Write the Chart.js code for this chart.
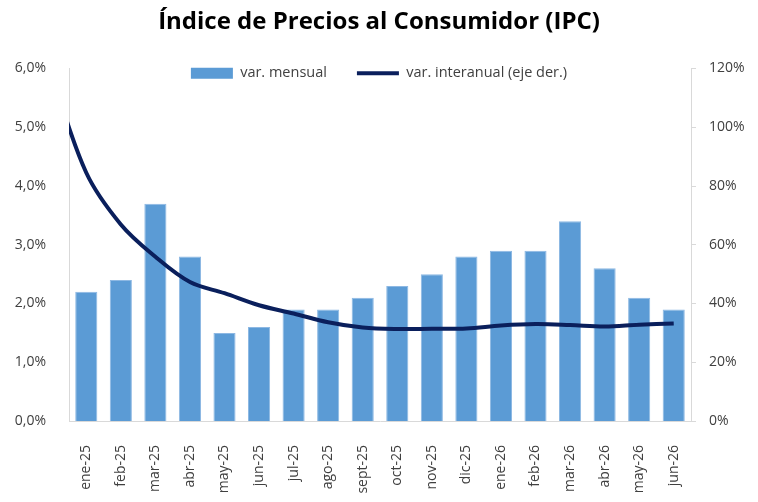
<!DOCTYPE html>
<html>
<head>
<meta charset="utf-8">
<script src="https://cdn.jsdelivr.net/npm/chart.js@4"></script>
<style>
  body { margin: 0; background: #fff; }
  canvas { display: block; }
</style>
</head>
<body>
<canvas id="grafico" width="758" height="502"></canvas>
<script>
// datos
const meses = ["ene-25", "feb-25", "mar-25", "abr-25", "may-25", "jun-25", "jul-25", "ago-25", "sept-25",
  "oct-25", "nov-25", "dic-25", "ene-26", "feb-26", "mar-26", "abr-26", "may-26", "jun-26"];
const varMensual = [2.2, 2.4, 3.7, 2.8, 1.5, 1.6, 1.9, 1.9, 2.1, 2.3, 2.5, 2.8, 2.9, 2.9, 3.4, 2.6, 2.1, 1.9];
// la linea arranca en dic-24 (queda recortada en el borde izquierdo)
const varInteranualDic24 = 117.8;
const varInteranual = [84.5, 66.9, 55.9, 47.3, 43.5, 39.4, 36.6, 33.6, 31.8, 31.3, 31.4,
  31.5, 32.5, 33.0, 32.7, 32.2, 32.8, 33.2];
const ticksIzq = [0, 1, 2, 3, 4, 5, 6];
const ticksDer = [0, 20, 40, 60, 80, 100, 120];

const fuente = "'Open Sans', sans-serif";
const gris = "#404040";
const lineaEje = "#d9d9d9";

// la leyenda va encima del area del grafico, como en excel
const bajarLeyenda = {
  id: "bajarLeyenda",
  afterLayout(chart) {
    const l = chart.legend;
    l.top += 22;
    l.bottom += 22;
  }
};

new Chart(document.getElementById("grafico"), {
  type: "bar",
  data: {
    datasets: [{
      label: "var. mensual",
      data: varMensual.map((v, i) => ({ x: i, y: v })),
      backgroundColor: "#5B9BD5",
      borderColor: "#8DB8E3",
      borderWidth: 1,
      grouped: false,
      categoryPercentage: 1,
      barPercentage: 0.64,
      yAxisID: "y",
      order: 2
    }, {
      type: "line",
      label: "var. interanual (eje der.)",
      data: [{ x: -1, y: varInteranualDic24 }].concat(varInteranual.map((v, i) => ({ x: i, y: v }))),
      borderColor: "#0A1F5C",
      backgroundColor: "#0A1F5C",
      borderWidth: 4,
      pointRadius: 0,
      tension: 0.35,
      yAxisID: "y2",
      clip: 0,
      order: 1
    }]
  },
  options: {
    responsive: false,
    animation: false,
    devicePixelRatio: 1,
    layout: { padding: 0 },
    plugins: {
      title: {
        display: true,
        text: "Índice de Precios al Consumidor (IPC)",
        color: "#000",
        font: { family: fuente, size: 24, weight: "bold" },
        padding: { top: 8, bottom: -22.8 }
      },
      legend: {
        position: "top",
        labels: {
          usePointStyle: true,
          pointStyleWidth: 42,
          boxHeight: 11,
          padding: 30,
          color: gris,
          font: { family: fuente, size: 14.5 },
          generateLabels(chart) {
            return chart.data.datasets.map((ds, i) => ({
              text: ds.label,
              fillStyle: ds.backgroundColor,
              strokeStyle: ds.type === "line" ? ds.borderColor : ds.backgroundColor,
              lineWidth: ds.type === "line" ? 4 : 0,
              pointStyle: ds.type === "line" ? "line" : "rect",
              fontColor: gris,
              datasetIndex: i
            }));
          }
        }
      },
      tooltip: { enabled: false }
    },
    scales: {
      x: {
        type: "linear",
        offset: false,
        min: -0.5,
        max: meses.length - 0.5,
        afterBuildTicks: s => { s.ticks = meses.map((m, i) => ({ value: i })); },
        grid: { display: false },
        border: { display: true, color: lineaEje },
        ticks: {
          minRotation: 90,
          maxRotation: 90,
          autoSkip: false,
          padding: 16,
          color: gris,
          font: { family: fuente, size: 14 },
          callback: v => meses[v]
        },
        afterFit: s => { s.height = 81; }
      },
      y: {
        position: "left",
        min: 0,
        max: 6,
        afterBuildTicks: s => { s.ticks = ticksIzq.map(v => ({ value: v })); },
        grid: { display: false },
        border: { display: true, color: lineaEje },
        ticks: {
          padding: 15,
          color: gris,
          font: { family: fuente, size: 14 },
          callback: v => v.toFixed(1).replace(".", ",") + "%"
        },
        afterFit: s => { s.width = 69; }
      },
      y2: {
        position: "right",
        min: 0,
        max: 120,
        afterBuildTicks: s => { s.ticks = ticksDer.map(v => ({ value: v })); },
        grid: { display: true, drawOnChartArea: false, drawTicks: true, tickLength: 5, color: lineaEje },
        border: { display: true, color: lineaEje },
        ticks: {
          padding: 13,
          color: gris,
          font: { family: fuente, size: 14 },
          callback: v => v + "%"
        },
        afterFit: s => { s.width = 67; }
      }
    }
  },
  plugins: [bajarLeyenda]
});
</script>
</body>
</html>
